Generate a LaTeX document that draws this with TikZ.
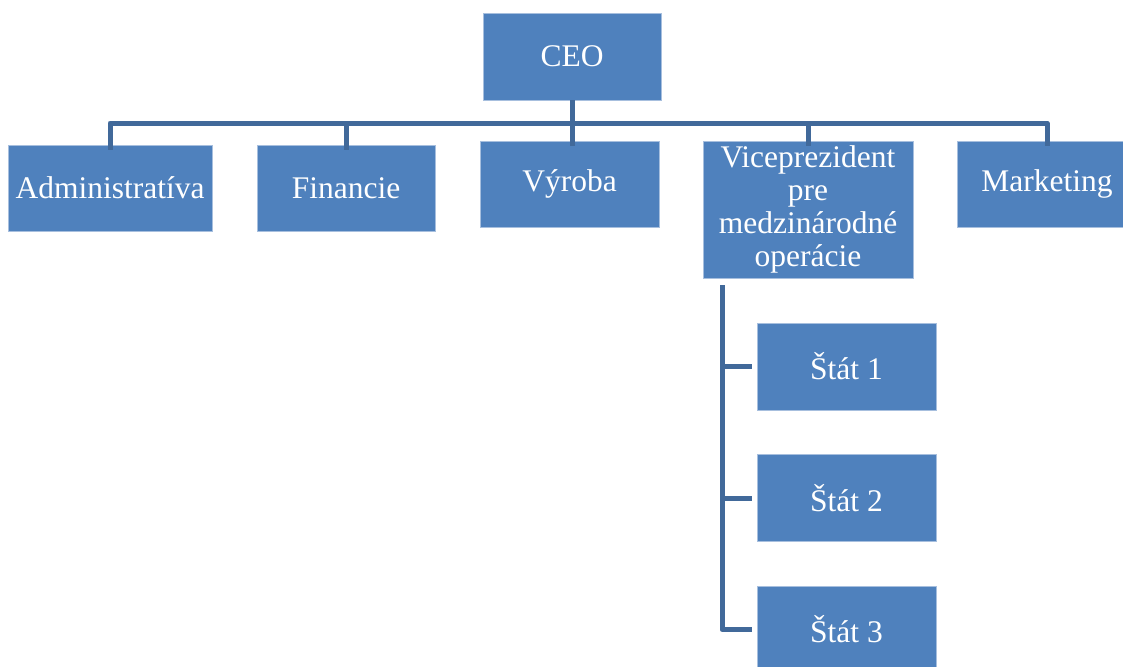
\documentclass[tikz,border=0pt]{standalone}
\usepackage{fontspec}
\setmainfont{Liberation Serif}
\definecolor{boxblue}{HTML}{4F81BD}
\definecolor{boxedge}{HTML}{A7BFDE}
\definecolor{linkblue}{HTML}{41699A}
\begin{document}
\begin{tikzpicture}[x=1pt,y=-1pt,
  unit/.style={rectangle, fill=boxblue, draw=boxedge, line width=0.8pt,
    text=white, inner sep=0pt, align=center,
    font=\fontsize{31.5}{33}\selectfont},
  conn/.style={draw=linkblue, line width=5pt, line join=round}]
\useasboundingbox (0,0) rectangle (1123,666);

% top level
\node[unit, minimum width=178, minimum height=87] (ceo) at (572,56.5) {CEO};

% second level
\node[unit, minimum width=204, minimum height=86] (adm) at (110,188) {Administratíva};
\node[unit, minimum width=178, minimum height=86] (fin) at (346,188) {Financie};
\node[unit, minimum width=179, minimum height=86] (vyr) at (569.5,184) {Výroba};
\node[unit, minimum width=210, minimum height=137] (vp) at (808,209.5)
  {Viceprezident\\pre\\medzinárodné\\operácie};
\node[unit, minimum width=180, minimum height=86] (mkt) at (1047,184) {Marketing};

% countries under the vice president
\node[unit, minimum width=179, minimum height=87] (s1) at (846.5,366.5) {Štát 1};
\node[unit, minimum width=179, minimum height=87] (s2) at (846.5,498) {Štát 2};
\node[unit, minimum width=179, minimum height=87] (s3) at (846.5,629.5) {Štát 3};

% bus below the CEO
\coordinate (bus) at (0,123);
\draw[conn] (ceo.south) -- (ceo.south |- bus) -| ([yshift=-5]adm.north);
\draw[conn] (ceo.south |- bus) -| ([yshift=-5]fin.north);
\draw[conn] (ceo.south |- bus) -| ([yshift=-5]vp.north);
\draw[conn] (ceo.south |- bus) -| ([yshift=-5]mkt.north);
\draw[conn] (ceo.south) -- ([yshift=-5]ceo.south |- vyr.north);

% spine from the vice president down to the countries
\coordinate (spine) at (722,285);
\draw[conn] (spine) |- ([xshift=-5]s3.west);
\draw[conn] (spine |- s1.west) -- ([xshift=-5]s1.west);
\draw[conn] (spine |- s2.west) -- ([xshift=-5]s2.west);
\end{tikzpicture}
\end{document}
